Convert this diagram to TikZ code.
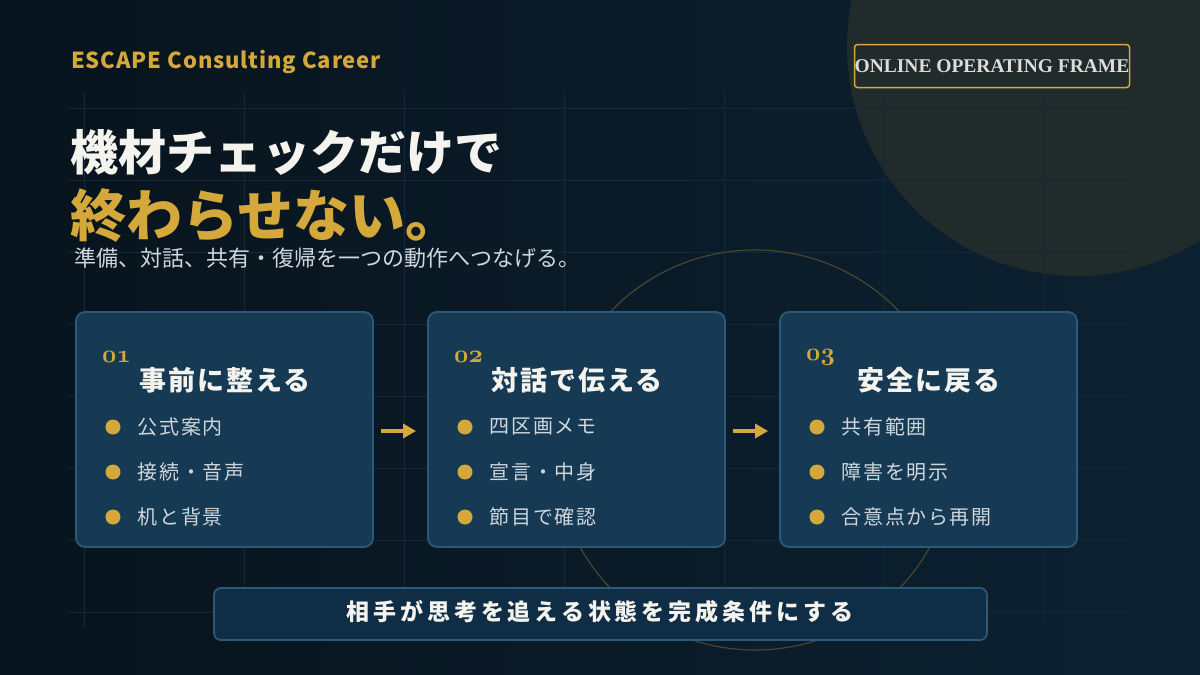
\documentclass[tikz,border=0pt]{standalone}
\usepackage{fontspec}
\setmainfont{Noto Sans CJK JP}
\newfontfamily\badgefont{Liberation Serif}
\usetikzlibrary{arrows.meta,positioning}

\definecolor{bgtop}{HTML}{08141D}
\definecolor{bgbottom}{HTML}{0C2131}
\definecolor{gridline}{HTML}{13283A}
\definecolor{gold}{HTML}{D4A83A}
\definecolor{haze}{HTML}{222B2C}
\definecolor{ring}{HTML}{4A4532}
\definecolor{cardfill}{HTML}{163A53}
\definecolor{cardedge}{HTML}{2D5877}
\definecolor{barfill}{HTML}{0F2D44}
\definecolor{paper}{HTML}{F4F3EE}
\definecolor{softtext}{HTML}{CFD6DC}
\definecolor{badgetext}{HTML}{DCDCD8}

\begin{document}
\begin{tikzpicture}[x=1pt, y=-1pt,
    node distance=17pt,
    card/.style={draw=cardedge, line width=1.8pt, fill=cardfill, rounded corners=9pt,
                 minimum width=297pt, minimum height=235pt, inner sep=0pt},
    num/.style={text=gold, inner sep=0pt, anchor=west,
                font=\fontsize{24.88}{24.88}\usefont{OML}{cmm}{b}{it}},
    cardhead/.style={text=paper, inner sep=0pt,
                     font=\bfseries\fontsize{27}{27}\selectfont\addfontfeature{LetterSpace=7}},
    dot/.style={circle, fill=gold, inner sep=0pt, minimum size=15pt},
    item/.style={text=softtext, inner sep=0pt,
                 font=\fontsize{20}{20}\selectfont\addfontfeature{LetterSpace=8}},
    flow/.style={-{Triangle[length=13pt, width=14pt]}, draw=gold, line width=4pt,
                 shorten <=7pt, shorten >=11pt}]
  \useasboundingbox (0,0) rectangle (1200,675);
  \shade[left color=bgtop, right color=bgbottom] (0,0) rectangle (1200,675);
  % background shapes
  \fill[haze] (1077,46) circle (230);
  \foreach \y in {108,180,...,612}
    \draw[gridline, line width=1pt] (70,\y) -- (1130,\y);
  \foreach \x in {84,244,...,1044}
    \draw[gridline, line width=1pt] (\x,92) -- (\x,628);
  \draw[ring, line width=1.2pt] (755,450) circle (200);

  % header
  \node[anchor=west, inner sep=0pt, text=gold,
        font=\bfseries\fontsize{22}{22}\selectfont\addfontfeature{LetterSpace=4}]
    (brand) at (71,62) {ESCAPE Consulting Career};
  \node[draw=gold, line width=1.5pt, rounded corners=3pt, minimum width=275pt,
        minimum height=43pt, inner sep=0pt] (badge) at (992,66) {};
  \node[text=badgetext, inner sep=0pt, font=\badgefont\bfseries\fontsize{19.5}{19.5}\selectfont]
    (badgelabel) at (badge) {ONLINE OPERATING FRAME};

  % title
  \node[anchor=west, inner sep=0pt, text=paper, font=\bfseries\fontsize{48}{48}\selectfont]
    (title) at (70,152) {機材チェックだけで};
  \node[anchor=west, inner sep=0pt, text=gold, font=\bfseries\fontsize{56}{56}\selectfont]
    (punch) at (70,216) {終わらせない。};
  \node[anchor=west, inner sep=0pt, text=softtext, font=\fontsize{22}{22}\selectfont]
    (lead) at (74,258) {準備、対話、共有・復帰を一つの動作へつなげる。};

  % three steps
  \node[card] (card1) at (224.5,429.5) {};
  \node[card] (card2) at (576.5,429.5) {};
  \node[card] (card3) at (928.5,429.5) {};

  \node[num] (num1) at (102,357) {01};
  \node[num] (num2) at (454,357) {02};
  \node[num] (num3) at (806,357) {03};

  \node[cardhead] (head1) at (225,380) {事前に整える};
  \node[cardhead] (head2) at (577,380) {対話で伝える};
  \node[cardhead] (head3) at (929,380) {安全に戻る};

  \node[dot] (dot11) at (113,427) {};
  \node[dot] (dot12) at (113,472) {};
  \node[dot] (dot13) at (113,517) {};
  \node[item, right=of dot11] (item11) {公式案内};
  \node[item, right=of dot12] (item12) {接続・音声};
  \node[item, right=of dot13] (item13) {机と背景};

  \node[dot] (dot21) at (465,427) {};
  \node[dot] (dot22) at (465,472) {};
  \node[dot] (dot23) at (465,517) {};
  \node[item, right=of dot21] (item21) {四区画メモ};
  \node[item, right=of dot22] (item22) {宣言・中身};
  \node[item, right=of dot23] (item23) {節目で確認};

  \node[dot] (dot31) at (817,427) {};
  \node[dot] (dot32) at (817,472) {};
  \node[dot] (dot33) at (817,517) {};
  \node[item, right=of dot31] (item31) {共有範囲};
  \node[item, right=of dot32] (item32) {障害を明示};
  \node[item, right=of dot33] (item33) {合意点から再開};

  \draw[flow] ([yshift=-1.5pt]card1.east) -- ([yshift=-1.5pt]card2.west);
  \draw[flow] ([yshift=-1.5pt]card2.east) -- ([yshift=-1.5pt]card3.west);

  % goal bar
  \node[draw=cardedge, line width=1.8pt, fill=barfill, rounded corners=7pt,
        minimum width=773pt, minimum height=52pt, inner sep=0pt] (goalbar) at (600.5,614) {};
  \node[text=paper, inner sep=0pt, font=\bfseries\fontsize{23}{23}\selectfont\addfontfeature{LetterSpace=17}]
    (goal) at (600,612) {相手が思考を追える状態を完成条件にする};
\end{tikzpicture}
\end{document}
